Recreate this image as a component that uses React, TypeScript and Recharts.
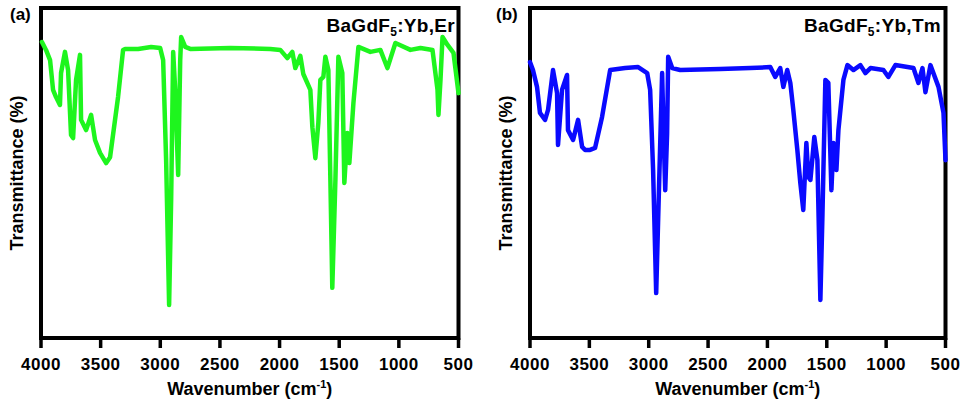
import { LineChart, Line, XAxis, YAxis, ReferenceArea, Label } from 'recharts';

const wavenumberTicks = [4000, 3500, 3000, 2500, 2000, 1500, 1000, 500];

// BaGdF5:Yb,Er (green)
const erWavenumber = [
  3992, 3958, 3924, 3899, 3874, 3841, 3832, 3799, 3773, 3748, 3731, 3706, 3673, 3664, 3622, 3580,
  3547, 3505, 3454, 3421, 3354, 3312, 3295, 3186, 3077, 3001, 2976, 2951, 2926, 2909, 2892, 2875,
  2850, 2833, 2825, 2791, 2749, 2414, 2078, 1994, 1935, 1893, 1868, 1826, 1801, 1742, 1725, 1700,
  1675, 1658, 1633, 1616, 1591, 1574, 1558, 1532, 1507, 1474, 1457, 1432, 1415, 1381, 1339, 1239,
  1155, 1096, 1029, 903, 819, 718, 676, 668, 651, 634, 592, 542, 500,
];
const erTransmittance = [
  89.7, 87.3, 84.2, 75.2, 73.0, 70.6, 80.3, 86.7, 81.2, 61.5, 60.6, 78.2, 85.8, 66.1, 63.0, 67.6,
  60.0, 56.1, 53.0, 54.8, 73.0, 87.3, 87.6, 87.6, 88.2, 87.9, 84.2, 53.9, 10.0, 41.8, 86.7, 75.2,
  49.4, 84.2, 91.2, 88.2, 87.6, 87.9, 87.6, 87.3, 84.8, 86.7, 81.8, 85.5, 80.0, 75.2, 63.9, 54.5,
  65.2, 78.2, 79.1, 85.2, 81.2, 47.9, 15.2, 47.9, 85.2, 80.3, 47.0, 62.1, 53.0, 71.2, 88.2, 86.7,
  87.3, 81.8, 89.4, 87.3, 87.9, 87.3, 75.2, 67.6, 78.2, 91.2, 88.8, 86.4, 74.2,
];

// BaGdF5:Yb,Tm (blue)
const tmWavenumber = [
  4000, 3975, 3941, 3916, 3873, 3848, 3806, 3772, 3764, 3730, 3688, 3680, 3637, 3595, 3561, 3536,
  3494, 3452, 3393, 3325, 3199, 3089, 3013, 2988, 2963, 2937, 2920, 2887, 2878, 2861, 2845, 2836,
  2802, 2735, 2398, 2145, 1976, 1934, 1892, 1866, 1833, 1807, 1782, 1748, 1723, 1698, 1672, 1655,
  1638, 1605, 1579, 1554, 1537, 1512, 1487, 1461, 1444, 1419, 1402, 1360, 1326, 1276, 1217, 1175,
  1132, 1023, 981, 922, 770, 728, 694, 669, 627, 559, 517, 500,
];
const tmTransmittance = [
  83.6, 81.2, 76.1, 68.2, 66.1, 69.1, 81.2, 74.2, 58.5, 75.2, 79.7, 63.0, 60.0, 66.1, 57.9, 57.0,
  57.0, 57.6, 67.0, 81.2, 81.8, 82.1, 80.3, 75.2, 50.9, 13.6, 36.7, 80.3, 67.0, 44.8, 62.1, 85.2,
  81.8, 81.2, 81.5, 81.8, 82.1, 79.1, 81.8, 76.1, 81.2, 77.3, 69.1, 57.0, 47.0, 38.8, 59.1, 48.8,
  47.9, 60.9, 53.9, 11.5, 36.7, 78.2, 77.3, 44.8, 59.1, 50.9, 63.0, 78.2, 82.7, 81.2, 82.7, 80.3,
  81.8, 81.2, 79.1, 82.7, 81.8, 77.3, 81.8, 74.5, 82.7, 76.1, 68.2, 53.9,
];

const FONT = "Arial, 'Liberation Sans', sans-serif";

function toRows(wn: number[], t: number[]) {
  return wn.map((w, i) => ({ wn: w, t: t[i] }));
}

function XTitle({ viewBox }: any) {
  const { x, y, width } = viewBox;
  return (
    <text x={x + width / 2} y={y + 57} textAnchor="middle" fontFamily={FONT} fontWeight="bold" fontSize={18} fill="#000">
      Wavenumber (cm<tspan dy={-7} fontSize={11}>-1</tspan>
      <tspan dy={7}>)</tspan>
    </text>
  );
}

function YTitle({ viewBox }: any) {
  const cx = viewBox.x + 17;
  const cy = viewBox.y + viewBox.height / 2;
  return (
    <text
      transform={`translate(${cx},${cy}) rotate(-90)`}
      textAnchor="middle"
      dominantBaseline="central"
      fontFamily={FONT}
      fontWeight="bold"
      fontSize={18}
      fill="#000"
    >
      Transmittance (%)
    </text>
  );
}

interface PanelProps {
  left: number;
  width: number;
  rightMargin: number;
  rows: { wn: number; t: number }[];
  color: string;
}

function Panel({ left, width, rightMargin, rows, color }: PanelProps) {
  return (
    <div style={{ position: 'absolute', left, top: 0 }}>
      <LineChart width={width} height={406} data={rows} margin={{ top: 8, right: rightMargin, left: 0, bottom: 38 }}>
        <XAxis
          dataKey="wn"
          type="number"
          domain={[500, 4000]}
          ticks={wavenumberTicks}
          reversed
          height={30}
          axisLine={false}
          tickLine={{ stroke: '#000', strokeWidth: 3.5 }}
          tickSize={10}
          tickMargin={10}
          tick={{ fill: '#000', fontSize: 17, fontWeight: 'bold', fontFamily: FONT, letterSpacing: 0.5 }}
          interval={0}
        >
          <Label content={<XTitle />} />
        </XAxis>
        <YAxis type="number" domain={[0, 100]} width={41} tick={false} axisLine={false} tickLine={false}>
          <Label content={<YTitle />} />
        </YAxis>
        <ReferenceArea x1={500} x2={4000} y1={0} y2={100} fill="none" stroke="#000" strokeWidth={4} />
        <Line
          type="linear"
          dataKey="t"
          stroke={color}
          strokeWidth={4.5}
          dot={false}
          strokeLinejoin="round"
          strokeLinecap="round"
          isAnimationActive={false}
        />
      </LineChart>
    </div>
  );
}

const labelStyle: React.CSSProperties = {
  position: 'absolute',
  fontFamily: FONT,
  fontWeight: 'bold',
  color: '#000',
  whiteSpace: 'nowrap',
};

export default function App() {
  return (
    <div style={{ position: 'absolute', left: 0, top: 0, width: 963, height: 406, background: '#fff', overflow: 'hidden' }}>
      <Panel left={0} width={480} rightMargin={21.5} rows={toRows(erWavenumber, erTransmittance)} color="#1ef51e" />
      <Panel left={489} width={474} rightMargin={17.5} rows={toRows(tmWavenumber, tmTransmittance)} color="#0a0aff" />

      <div style={{ ...labelStyle, left: 10, top: 6, fontSize: 17, lineHeight: '17px' }}>(a)</div>
      <div style={{ ...labelStyle, left: 496, top: 6, fontSize: 17, lineHeight: '17px' }}>(b)</div>

      <div style={{ ...labelStyle, right: 508, top: 16, fontSize: 19, lineHeight: '19px', letterSpacing: 0.3 }}>
        BaGdF<sub style={{ fontSize: 12, verticalAlign: -4 }}>5</sub>:Yb,Er
      </div>
      <div style={{ ...labelStyle, right: 22, top: 16, fontSize: 19, lineHeight: '19px', letterSpacing: 0.3 }}>
        BaGdF<sub style={{ fontSize: 12, verticalAlign: -4 }}>5</sub>:Yb,Tm
      </div>
    </div>
  );
}
